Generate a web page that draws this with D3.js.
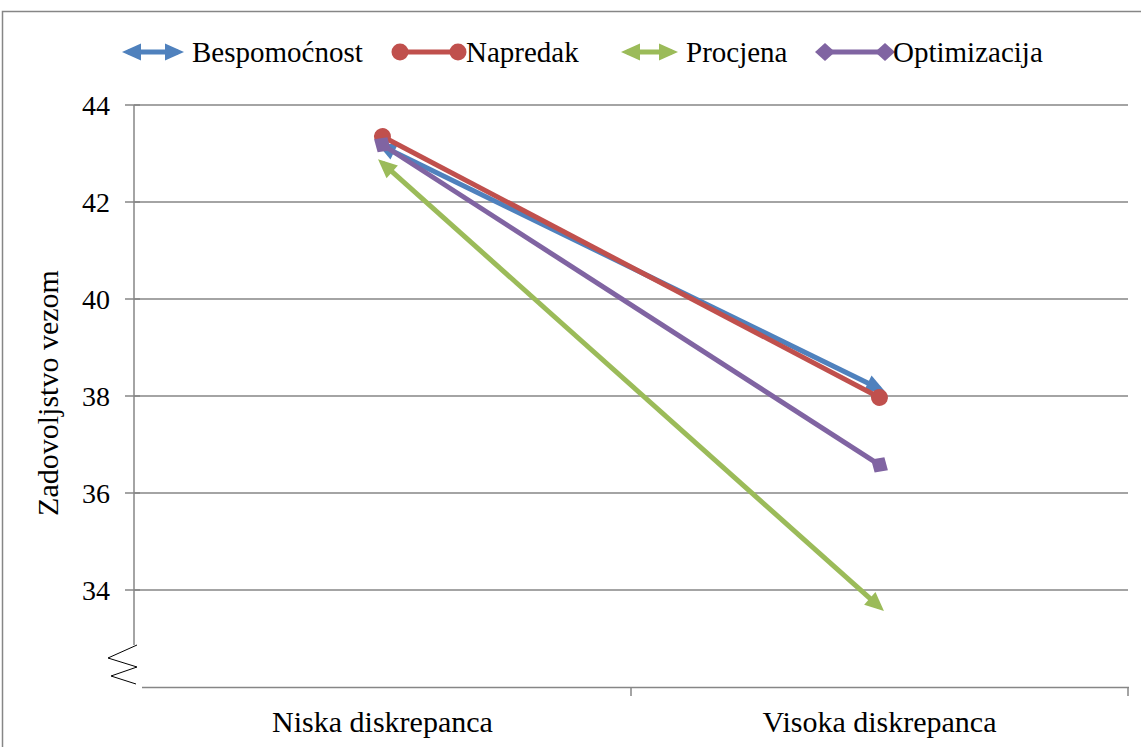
<!DOCTYPE html>
<html><head><meta charset="utf-8">
<script src="https://cdn.jsdelivr.net/npm/d3@7"></script>
<style>body{margin:0;background:#fff}svg{display:block}</style>
</head><body><svg id="c" width="1141" height="747"></svg>
<script>
const categories = ["Niska diskrepanca", "Visoka diskrepanca"];
const seriesNames = ["Bespomoćnost", "Napredak", "Procjena", "Optimizacija"];
const bespomocnost = [43.15, 38.15];
const napredak = [43.35, 37.97];
const procjena = [42.8, 33.65];
const optimizacija = [43.18, 36.58];
const yTicks = [34, 36, 38, 40, 42, 44];
const colors = ["#4F81BD", "#C0504D", "#9BBB59", "#8064A2"];
const markers = ["arrow", "circle", "arrow", "diamond"];
const seriesValues = [bespomocnost, napredak, procjena, optimizacija];
const FONT = "'Liberation Serif', serif";

const svg = d3.select("#c");
svg.append("rect").attr("x",2.5).attr("y",11.5).attr("width",1145).attr("height",745)
  .attr("fill","none").attr("stroke","#868686").attr("stroke-width",1.5);

const x = d3.scaleBand().domain(categories).range([134,1128]);
const y = d3.scaleLinear().domain([32,44]).range([687,105]);

const defs = svg.append("defs");
colors.forEach((c,i)=>{
  const m = defs.append("marker").attr("id","m"+i).attr("markerUnits","userSpaceOnUse")
    .attr("orient","auto-start-reverse").attr("overflow","visible")
    .attr("viewBox","-10 -10 20 20").attr("markerWidth",20).attr("markerHeight",20).attr("refX",0).attr("refY",0);
  if(markers[i]==="arrow"){
    m.append("path").attr("d","M-13,-8.5 L6,0 L-13,8.5 Z").attr("fill",c);
  } else if(markers[i]==="circle"){
    m.append("circle").attr("r",8.5).attr("fill",c);
  } else {
    m.append("path").attr("d","M-10,0 L0,-9 L10,0 L0,9 Z").attr("fill",c);
  }
});

function txt(sel, fs){ return sel.attr("font-family",FONT).style("font-family",FONT).attr("fill","#000").attr("font-size",fs); }

svg.append("g").selectAll("line").data(yTicks).join("line")
  .attr("x1",134).attr("x2",1128).attr("y1",d=>y(d)).attr("y2",d=>y(d))
  .attr("stroke","#868686").attr("stroke-width",1.5);
svg.append("g").selectAll("line").data(yTicks).join("line")
  .attr("x1",125).attr("x2",140).attr("y1",d=>y(d)).attr("y2",d=>y(d))
  .attr("stroke","#868686").attr("stroke-width",1.5);
txt(svg.append("g").selectAll("text").data(yTicks).join("text")
  .attr("x",110).attr("y",d=>y(d)+10).attr("text-anchor","end").text(d=>d), 28);
svg.append("line").attr("x1",134).attr("x2",134).attr("y1",y(44)).attr("y2",645)
  .attr("stroke","#868686").attr("stroke-width",1.5);
svg.append("path").attr("d","M137,645 L108,658 L137,667 L111,676 L136,684").attr("fill","none")
  .attr("stroke","#000").attr("stroke-width",1);
svg.append("line").attr("x1",142).attr("x2",1129).attr("y1",687.5).attr("y2",687.5)
  .attr("stroke","#868686").attr("stroke-width",1.5);
const xt = [x.range()[0] + x.bandwidth(), x.range()[1]];
svg.append("g").selectAll("line").data(xt).join("line")
  .attr("x1",d=>d).attr("x2",d=>d).attr("y1",687).attr("y2",696)
  .attr("stroke","#868686").attr("stroke-width",1.5);
txt(svg.append("g").selectAll("text").data(categories).join("text")
  .attr("x",d=>x(d)+x.bandwidth()/2).attr("y",732).attr("text-anchor","middle").text(d=>d), 30);
txt(svg.append("text").attr("transform","translate(58,393) rotate(-90)").attr("text-anchor","middle")
  .text("Zadovoljstvo vezom"), 30);

const line = d3.line().x((d,i)=>x(categories[i])+x.bandwidth()/2).y(d=>y(d));
seriesValues.forEach((vals,i)=>{
  svg.append("path").attr("d",line(vals)).attr("fill","none").attr("stroke",colors[i])
    .attr("stroke-width",5).attr("marker-start","url(#m"+i+")").attr("marker-end","url(#m"+i+")");
});

const legX = [128, 400, 627, 825];
const legTextX = [192, 466, 686, 893];
seriesNames.forEach((n,i)=>{
  const x0 = legX[i], x1 = legTextX[i] - (markers[i]==="arrow"?14:8);
  svg.append("line").attr("x1",x0).attr("x2",x1).attr("y1",52).attr("y2",52)
    .attr("stroke",colors[i]).attr("stroke-width",5)
    .attr("marker-start","url(#m"+i+")").attr("marker-end","url(#m"+i+")");
  txt(svg.append("text").attr("x",legTextX[i]).attr("y",62).text(n), 29);
});
</script></body></html>
